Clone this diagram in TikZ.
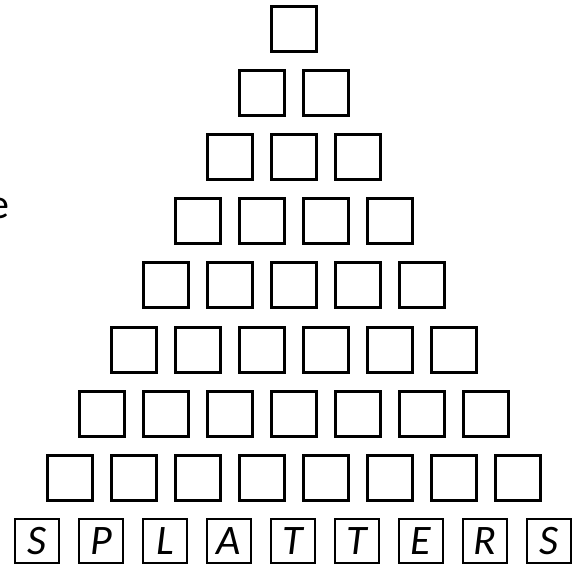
\documentclass[tikz,border=0pt]{standalone}
\usepackage{fontspec}
\setmainfont{Carlito}
\begin{document}
\begin{tikzpicture}[x=1pt,y=-1pt,
  cell/.style={draw=black,line width=3pt,minimum size=45pt,inner sep=0pt},
  lcell/.style={draw=black,line width=2.2pt,minimum size=44pt,inner sep=0pt,
    font=\fontsize{42}{46}\selectfont\itshape}]
\useasboundingbox (0,0) rectangle (579,565);
\begin{scope}
\clip (0,0) rectangle (579,565);
\node[anchor=base east,inner sep=0pt,font=\fontsize{42}{48}\selectfont] (e) at (10,218) {e};
\end{scope}
\foreach \r in {1,...,8}{
  \foreach \c in {1,...,\r}{
    \pgfmathsetmacro{\xx}{293.5+64*(\c-1)-32*(\r-1)}
    \pgfmathsetmacro{\yy}{29+64.1*(\r-1)}
    \node[cell] (r\r c\c) at (\xx,\yy) {};
  }
}
\foreach \L [count=\c] in {S,P,L,A,T,T,E,R,S}{
  \pgfmathsetmacro{\xx}{37+64*(\c-1)}
  \node[lcell] (r9c\c) at (\xx,541) {\L};
}
\end{tikzpicture}
\end{document}
